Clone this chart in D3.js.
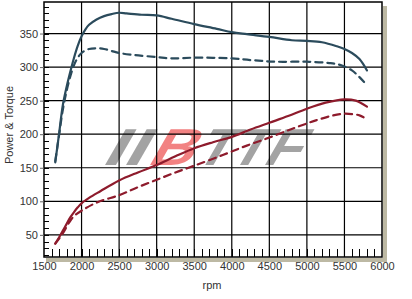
<!DOCTYPE html>
<html>
<head>
<meta charset="utf-8">
<script src="https://cdn.jsdelivr.net/npm/d3@7"></script>
<style>
  body { margin: 0; background: #fff; }
  text { font-family: "Liberation Sans", Arial, sans-serif; }
</style>
</head>
<body>
<div id="chart"></div>
<script>
// rpm ticks and value ticks
const rpmTicks = [1500, 2000, 2500, 3000, 3500, 4000, 4500, 5000, 5500, 6000];
const valueTicks = [50, 100, 150, 200, 250, 300, 350];

// tuned torque (solid blue)
const torqueTunedRpm = [1650, 1700, 1750, 1800, 1850, 1900, 1950, 2000, 2050, 2100, 2200, 2300, 2400, 2500, 2600, 2800, 3000, 3200, 3500, 3800, 4000, 4200, 4500, 4800, 5000, 5200, 5400, 5500, 5600, 5700, 5800];
const torqueTuned    = [158, 200, 243, 270, 293, 314, 332, 346, 356, 363, 371, 376, 379, 381, 380, 378, 377, 372, 364, 357, 352, 349, 345, 340, 339, 337, 331, 327, 321, 312, 295];

// stock torque (dashed blue)
const torqueStockRpm = [1650, 1700, 1750, 1800, 1850, 1900, 1950, 2000, 2100, 2200, 2300, 2400, 2500, 2700, 3000, 3200, 3500, 4000, 4300, 4600, 5000, 5300, 5450, 5600, 5700, 5800];
const torqueStock    = [160, 198, 236, 264, 286, 303, 314, 321, 327, 328, 327, 324, 321, 318, 315, 313, 314, 313, 310, 308, 308, 306, 303, 295, 285, 273];

// tuned power (solid red)
const powerTunedRpm = [1650, 1700, 1750, 1800, 1850, 1900, 1950, 2000, 2100, 2250, 2500, 2750, 3000, 3250, 3500, 3750, 4000, 4250, 4500, 4750, 5000, 5250, 5500, 5650, 5800];
const powerTuned    = [37, 46, 56, 66, 76, 84, 91, 97, 105, 115, 131, 143, 154, 167, 179, 188, 196, 207, 217, 227, 238, 247, 252, 250, 241];

// stock power (dashed red)
const powerStockRpm = [1650, 1750, 1800, 1850, 1900, 2000, 2220, 2500, 2750, 3000, 3250, 3500, 3880, 4200, 4500, 4780, 5000, 5130, 5440, 5600, 5700, 5775];
const powerStock    = [37, 52, 62, 71, 78, 86, 99, 109, 121, 132, 143, 153, 169, 183, 195, 207, 216, 221, 230, 230, 228, 224];

const W = 412, H = 299;
const m = { left: 44, right: 382, top: 2, bottom: 257 };

const svg = d3.select("#chart").append("svg")
  .attr("width", W).attr("height", H);

const x = d3.scaleLinear().domain([1500, 6000]).range([m.left, m.right]);
const y = d3.scaleLinear().domain([17, 397]).range([m.bottom, m.top]);

// drop shadow of the plot frame
svg.append("rect")
  .attr("x", m.right + 1).attr("y", m.top + 4)
  .attr("width", 4).attr("height", m.bottom - m.top)
  .attr("fill", "#bdb9a4");
svg.append("rect")
  .attr("x", m.left + 2).attr("y", m.bottom + 1)
  .attr("width", m.right - m.left + 3).attr("height", 4)
  .attr("fill", "#bdb9a4");

// plot background
svg.append("rect")
  .attr("x", m.left).attr("y", m.top)
  .attr("width", m.right - m.left).attr("height", m.bottom - m.top)
  .attr("fill", "#fff");

// watermark logo (baseline at y=165, slanted)
const logo = svg.append("g")
  .attr("transform", "translate(0,165) skewX(-30)");
const logoPart = (txt, x0, w, fill) => logo.append("text")
  .attr("x", x0).attr("y", 0)
  .attr("font-size", 52)
  .attr("font-weight", 900)
  .attr("font-family", "DejaVu Sans")
  .attr("textLength", w)
  .attr("lengthAdjust", "spacingAndGlyphs")
  .attr("fill", fill)
  .text(txt);
logoPart("II", 100, 42, "#a3a3a3");
logoPart("B", 146, 44, "#f28282");
logoPart("TTF", 192, 104, "#a3a3a3");

// grid
svg.append("g").selectAll("line")
  .data(rpmTicks.slice(1, -1)).join("line")
  .attr("x1", d => x(d)).attr("x2", d => x(d))
  .attr("y1", m.top).attr("y2", m.bottom)
  .attr("stroke", "#000").attr("stroke-width", 1.2);
svg.append("g").selectAll("line")
  .data(valueTicks).join("line")
  .attr("x1", m.left).attr("x2", m.right)
  .attr("y1", d => y(d)).attr("y2", d => y(d))
  .attr("stroke", "#000").attr("stroke-width", 1.2);

// frame
svg.append("rect")
  .attr("x", m.left).attr("y", m.top)
  .attr("width", m.right - m.left).attr("height", m.bottom - m.top)
  .attr("fill", "none").attr("stroke", "#000").attr("stroke-width", 1.5);

// minor ticks inside the frame
svg.append("g").selectAll("line")
  .data(d3.range(20, 400, 10)).join("line")
  .attr("x1", m.left).attr("x2", m.left + 5)
  .attr("y1", d => Math.round(y(d)) + 0.5).attr("y2", d => Math.round(y(d)) + 0.5)
  .attr("stroke", "#000");
svg.append("g").selectAll("line")
  .data(d3.range(1600, 6000, 100)).join("line")
  .attr("x1", d => Math.round(x(d)) + 0.5).attr("x2", d => Math.round(x(d)) + 0.5)
  .attr("y1", m.bottom).attr("y2", m.bottom - 8)
  .attr("stroke", "#000");

// axes labels via d3 axes
const yAxis = svg.append("g")
  .attr("transform", `translate(${m.left},0)`)
  .call(d3.axisLeft(y).tickValues(valueTicks).tickSize(4).tickPadding(2));
const xAxis = svg.append("g")
  .attr("transform", `translate(0,${m.bottom})`)
  .call(d3.axisBottom(x).tickValues(rpmTicks).tickSize(0).tickPadding(5).tickFormat(d3.format("d")));
[yAxis, xAxis].forEach(a => {
  a.select(".domain").remove();
  a.selectAll("text").attr("font-size", 11).attr("fill", "#333")
    .attr("font-family", "Liberation Sans, Arial, sans-serif");
  a.selectAll("line").attr("stroke", "#666");
});

svg.append("text")
  .attr("x", 212).attr("y", 289)
  .attr("text-anchor", "middle")
  .attr("font-size", 11).attr("fill", "#333")
  .text("rpm");
svg.append("text")
  .attr("transform", "translate(13,125) rotate(-90)")
  .attr("text-anchor", "middle")
  .attr("font-size", 11).attr("fill", "#333")
  .text("Power & Torque");

// curves
const line = d3.line()
  .x(d => x(d[0])).y(d => y(d[1]))
  .curve(d3.curveCatmullRom.alpha(0.5));

const series = [
  { rpm: torqueStockRpm, val: torqueStock, color: "#2b4b5c", dash: "7,5" },
  { rpm: powerStockRpm, val: powerStock, color: "#8e1b2c", dash: "7,5" },
  { rpm: torqueTunedRpm, val: torqueTuned, color: "#2b4b5c", dash: null },
  { rpm: powerTunedRpm, val: powerTuned, color: "#8e1b2c", dash: null }
];

series.forEach(s => {
  svg.append("path")
    .datum(s.rpm.map((r, i) => [r, s.val[i]]))
    .attr("d", line)
    .attr("fill", "none")
    .attr("stroke", s.color)
    .attr("stroke-width", 2.2)
    .attr("stroke-dasharray", s.dash)
    .attr("stroke-linecap", "round");
});
</script>
</body>
</html>
